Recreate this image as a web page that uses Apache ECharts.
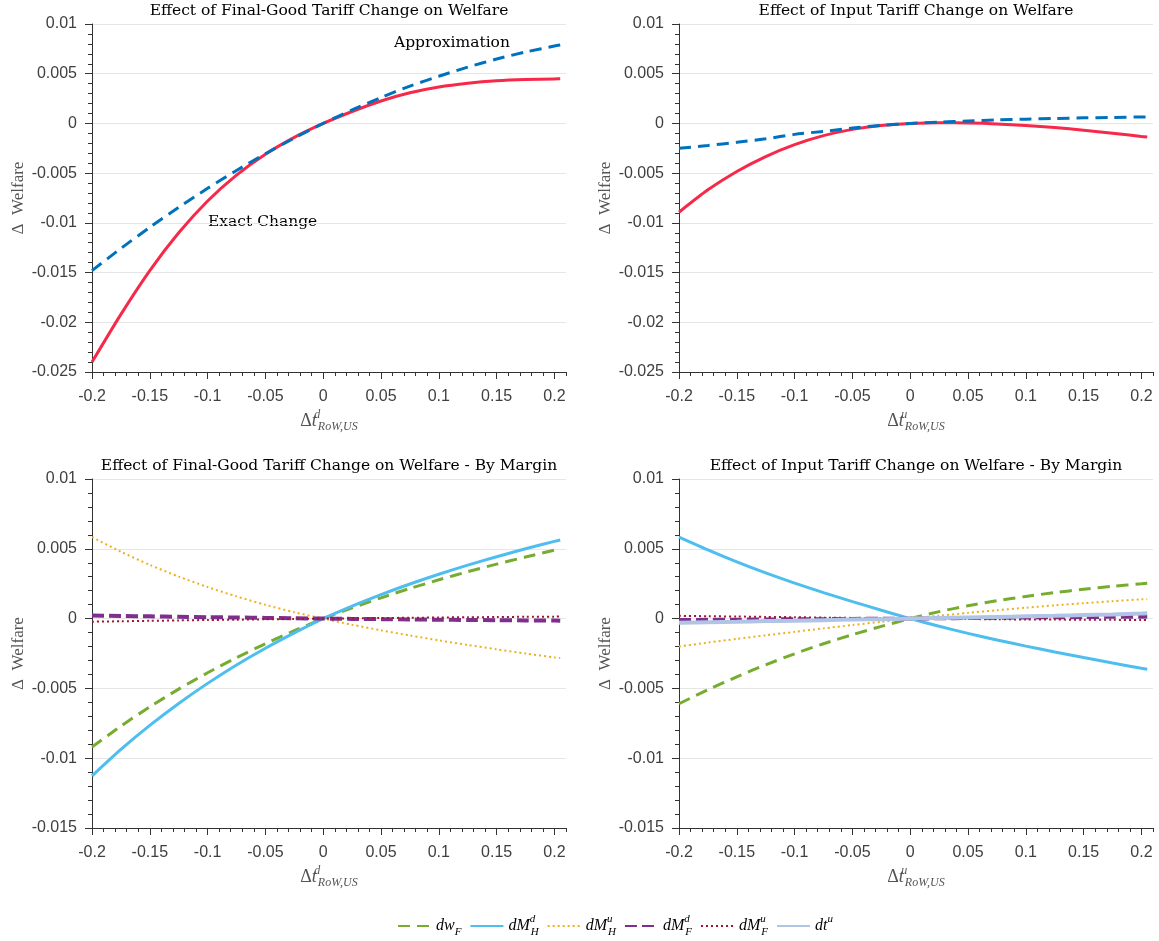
<!DOCTYPE html>
<html><head><meta charset="utf-8">
<script src="https://cdn.jsdelivr.net/npm/echarts@6/dist/echarts.min.js"></script>
<style>html,body{margin:0;padding:0;background:#fff}#c{width:1159px;height:941px}</style>
</head><body><div id="c"></div>
<script>
// ---------- data ----------
const xs = [-0.2,-0.175,-0.15,-0.125,-0.1,-0.075,-0.05,-0.025,0,0.025,0.05,0.075,0.1,0.125,0.15,0.175,0.2,0.205];
const xTickLabels = [-0.2,-0.15,-0.1,-0.05,0,0.05,0.1,0.15,0.2];

// top-left: final-good tariff change
const finalExact  = [-0.0240,-0.0192,-0.0148,-0.0110,-0.0078,-0.0052,-0.0031,-0.0014,0,0.0012,0.00226,0.00308,0.00366,0.00404,0.00429,0.00442,0.00448,0.00449];
const finalApprox = [-0.0148,-0.01257,-0.01045,-0.00843,-0.00653,-0.00473,-0.00305,-0.00147,0,0.00136,0.00261,0.00375,0.00475,0.00566,0.00648,0.00718,0.00778,0.00788];
// top-right: input tariff change
const inputExact  = [-0.00893,-0.00668,-0.00483,-0.00333,-0.00213,-0.00123,-0.0006,-0.0002,0,0.00008,0.00005,-0.00005,-0.00021,-0.00042,-0.00068,-0.00098,-0.00131,-0.00137];
const inputApprox = [-0.0025,-0.00222,-0.0019,-0.00155,-0.0011,-0.0008,-0.00047,-0.0002,0,0.00013,0.00025,0.00035,0.00043,0.0005,0.00056,0.0006,0.00065,0.00066];

// bottom-left: final-good tariff, by margin
const fin_dwF   = [-0.0092,-0.0077,-0.00632,-0.00505,-0.00388,-0.0028,-0.0018,-0.00087,0,0.00077,0.00149,0.00216,0.00278,0.00336,0.0039,0.00441,0.0049,0.0050];
const fin_dMHd  = [-0.01127,-0.00937,-0.00765,-0.00608,-0.00464,-0.00332,-0.00212,-0.00102,0,0.0009,0.00172,0.00248,0.00318,0.00383,0.00443,0.0050,0.00553,0.00563];
const fin_dMHu  = [0.00584,0.00479,0.00385,0.00301,0.00226,0.00159,0.00099,0.00046,0,-0.00044,-0.00084,-0.00121,-0.00156,-0.00189,-0.0022,-0.0025,-0.00278,-0.00283];
const fin_dMFd  = [0.00022,0.00019,0.00016,0.00013,0.0001,0.00008,0.00005,0.00003,0,-0.00002,-0.00004,-0.00006,-0.00008,-0.0001,-0.00011,-0.00013,-0.00014,-0.00015];
const fin_dMFu  = [-0.00022,-0.00019,-0.00016,-0.00013,-0.0001,-0.00008,-0.00005,-0.00003,0,0.00002,0.00004,0.00006,0.00008,0.0001,0.00011,0.00013,0.00014,0.00015];

// bottom-right: input tariff, by margin
const inp_dwF   = [-0.0061,-0.0051,-0.00417,-0.00331,-0.00252,-0.0018,-0.00115,-0.00056,0,0.0005,0.00092,0.00128,0.00159,0.00186,0.0021,0.00231,0.0025,0.00254];
const inp_dMHd  = [0.00584,0.00492,0.00406,0.00327,0.00254,0.00186,0.00122,0.0006,0,-0.00055,-0.00106,-0.00153,-0.00197,-0.00239,-0.00279,-0.00318,-0.00356,-0.00363];
const inp_dMHu  = [-0.0020,-0.00172,-0.00145,-0.0012,-0.00095,-0.0007,-0.00046,-0.00023,0,0.00021,0.00041,0.0006,0.00078,0.00095,0.0011,0.00125,0.00138,0.0014];
const inp_dMFd  = [-0.0001,-0.00009,-0.00008,-0.00006,-0.00005,-0.00004,-0.00002,-0.00001,0,0.00002,0.00004,0.00006,0.00008,0.0001,0.00011,0.00013,0.00014,0.00015];
const inp_dMFu  = [0.0002,0.00017,0.00015,0.00012,0.0001,0.00007,0.00005,0.00002,0,-0.00002,-0.00003,-0.00005,-0.00006,-0.00007,-0.00008,-0.00009,-0.0001,-0.0001];
const inp_dtu   = [-0.0003,-0.00026,-0.00022,-0.00018,-0.00015,-0.00011,-0.00007,-0.00004,0,0.00004,0.00008,0.00012,0.00016,0.0002,0.00025,0.0003,0.00036,0.00038];

const titles = ['Effect of Final-Good Tariff Change on Welfare','Effect of Input Tariff Change on Welfare',
                'Effect of Final-Good Tariff Change on Welfare - By Margin','Effect of Input Tariff Change on Welfare - By Margin'];
const legendNames = ['dw_F','dM_H^d','dM_H^u','dM_F^d','dM_F^u','dt^u'];

// ---------- styling ----------
const SERIF = "'Liberation Serif','DejaVu Serif',serif";
const TSERIF = "'DejaVu Serif','Liberation Serif',serif";
const SANS = "'Liberation Sans',Arial,sans-serif";
const C = {red:'#F7294A', blue:'#0072BD', green:'#77AC30', cyan:'#4DBEEE', orange:'#EDB120', purple:'#7E2F8E', dred:'#A2142F', lblue:'#B0C4E6'};
const axisCol = '#333333', labCol = '#404040';

const pair = ys => xs.map((x,i)=>[x, ys[i]]);

const grids = [
  {left:92, top:24, width:474, height:348},
  {left:679, top:24, width:474, height:348},
  {left:92, top:479, width:474, height:349},
  {left:679, top:479, width:474, height:349}
];
const yRanges = [[-0.025,0.01],[-0.025,0.01],[-0.015,0.01],[-0.015,0.01]];
const supLetter = ['d','u','d','u'];

const xAxes = [], yAxes = [];
grids.forEach((g,i)=>{
  xAxes.push({
    type:'value', gridIndex:i, min:-0.2, max:0.21, interval:0.05, position:'bottom',
    axisLine:{show:true, onZero:false, lineStyle:{color:axisCol, width:1}},
    axisTick:{show:true, length:7, inside:false, customValues:xTickLabels, lineStyle:{color:axisCol}},
    axisLabel:{customValues:xTickLabels, color:labCol, fontFamily:SANS, fontSize:16, margin:17},
    splitLine:{show:false},
    name:'{D|Δ}{T|t}{P|'+supLetter[i]+'}{B|RoW,US}', nameLocation:'middle', nameGap:37,
    nameTextStyle:{color:'#555', rich:{
      D:{fontFamily:SERIF, fontSize:18, color:'#555', verticalAlign:'middle', lineHeight:24},
      T:{fontFamily:SERIF, fontSize:18, fontStyle:'italic', color:'#555', verticalAlign:'middle', lineHeight:24},
      P:{fontFamily:SERIF, fontSize:12, fontStyle:'italic', color:'#555', verticalAlign:'top', lineHeight:24, width:1},
      B:{fontFamily:SERIF, fontSize:12, fontStyle:'italic', color:'#555', verticalAlign:'bottom', lineHeight:24}
    }}
  });
  xAxes.push({
    type:'value', gridIndex:i, min:-0.2, max:0.21, interval:0.01, position:'bottom',
    axisLine:{show:false, onZero:false}, axisLabel:{show:false}, splitLine:{show:false},
    axisTick:{show:true, length:4, lineStyle:{color:axisCol}}
  });
  yAxes.push({
    type:'value', gridIndex:i, min:yRanges[i][0], max:yRanges[i][1], interval:0.005,
    axisLine:{show:true, onZero:false, lineStyle:{color:axisCol, width:1}},
    axisTick:{show:true, length:7, lineStyle:{color:axisCol}},
    minorTick:{show:true, splitNumber:5, length:4, lineStyle:{color:axisCol}},
    axisLabel:{color:labCol, fontFamily:SANS, fontSize:16, margin:15},
    splitLine:{show:true, lineStyle:{color:'#E6E6E6', width:1}},
    name:'Δ  Welfare', nameLocation:'middle', nameGap:65,
    nameTextStyle:{fontFamily:SERIF, fontSize:17, color:'#555'}
  });
});

function line(name, gi, ys, color, width, type, z){
  return {type:'line', name, xAxisIndex:gi*2, yAxisIndex:gi, data:pair(ys), smooth:0.25,
    showSymbol:false, symbol:'none', lineStyle:{color, width, type}, itemStyle:{color}, z:z||2, silent:true, animation:false};
}
const dash = [12,7], dot = [2,3];
const series = [
  line('Approximation',0,finalApprox,C.blue,3,dash,3),
  line('Exact Change',0,finalExact,C.red,3,'solid',2),
  line('Approximation ',1,inputApprox,C.blue,3,dash,3),
  line('Exact Change ',1,inputExact,C.red,3,'solid',2),

  line('dw_F',2,fin_dwF,C.green,3,dash,2),
  line('dM_H^d',2,fin_dMHd,C.cyan,3,'solid',3),
  line('dM_H^u',2,fin_dMHu,C.orange,2,dot,4),
  line('dM_F^d',2,fin_dMFd,C.purple,4,[12,5],5),
  line('dM_F^u',2,fin_dMFu,C.dred,2,dot,6),

  line('dw_F',3,inp_dwF,C.green,3,dash,2),
  line('dM_H^d',3,inp_dMHd,C.cyan,3,'solid',3),
  line('dM_H^u',3,inp_dMHu,C.orange,2,dot,4),
  line('dM_F^d',3,inp_dMFd,C.purple,4,[12,5],5),
  line('dM_F^u',3,inp_dMFu,C.dred,2,dot,6),
  line('dt^u',3,inp_dtu,C.lblue,4,'solid',7)
];

const legendFmt = {
  'dw_F':'{i|dw}{s|F}',
  'dM_H^d':'{i|dM}{p|d}{s|H}',
  'dM_H^u':'{i|dM}{p|u}{s|H}',
  'dM_F^d':'{i|dM}{p|d}{s|F}',
  'dM_F^u':'{i|dM}{p|u}{s|F}',
  'dt^u':'{i|dt}{q|u}'
};

const titleCenters = [329, 916, 329, 916];
const titleTops = [3, 3, 458, 458];

const option = {
  backgroundColor:'#ffffff',
  animation:false,
  title: titles.map((t,i)=>({text:t, left:titleCenters[i], top:titleTops[i], textAlign:'center', padding:0,
      textStyle:{fontFamily:TSERIF, fontSize:15.5, fontWeight:'normal', color:'#000'}})),
  grid: grids,
  xAxis: xAxes,
  yAxis: yAxes,
  legend: {
    data: legendNames, top:914, left:397, itemWidth:33, itemHeight:12, itemGap:8, padding:0,
    itemStyle:{opacity:0},
    formatter: n => legendFmt[n],
    textStyle:{rich:{
      i:{fontFamily:SERIF, fontStyle:'italic', fontSize:16, color:'#000', verticalAlign:'middle', lineHeight:24},
      p:{fontFamily:SERIF, fontStyle:'italic', fontSize:11, color:'#000', verticalAlign:'top', lineHeight:24, width:1},
      q:{fontFamily:SERIF, fontStyle:'italic', fontSize:11, color:'#000', verticalAlign:'top', lineHeight:24},
      s:{fontFamily:SERIF, fontStyle:'italic', fontSize:11, color:'#000', verticalAlign:'bottom', lineHeight:24}
    }}
  },
  graphic: [
    {type:'text', left:394, top:35, style:{text:'Approximation', font:"15.5px 'DejaVu Serif'", fill:'#000'}},
    {type:'text', left:208, top:214, style:{text:'Exact Change', font:"15.5px 'DejaVu Serif'", fill:'#000'}}
  ],
  series
};
const chart = echarts.init(document.getElementById('c'), null, {renderer:'canvas'});
chart.setOption(option);
</script>
</body></html>
